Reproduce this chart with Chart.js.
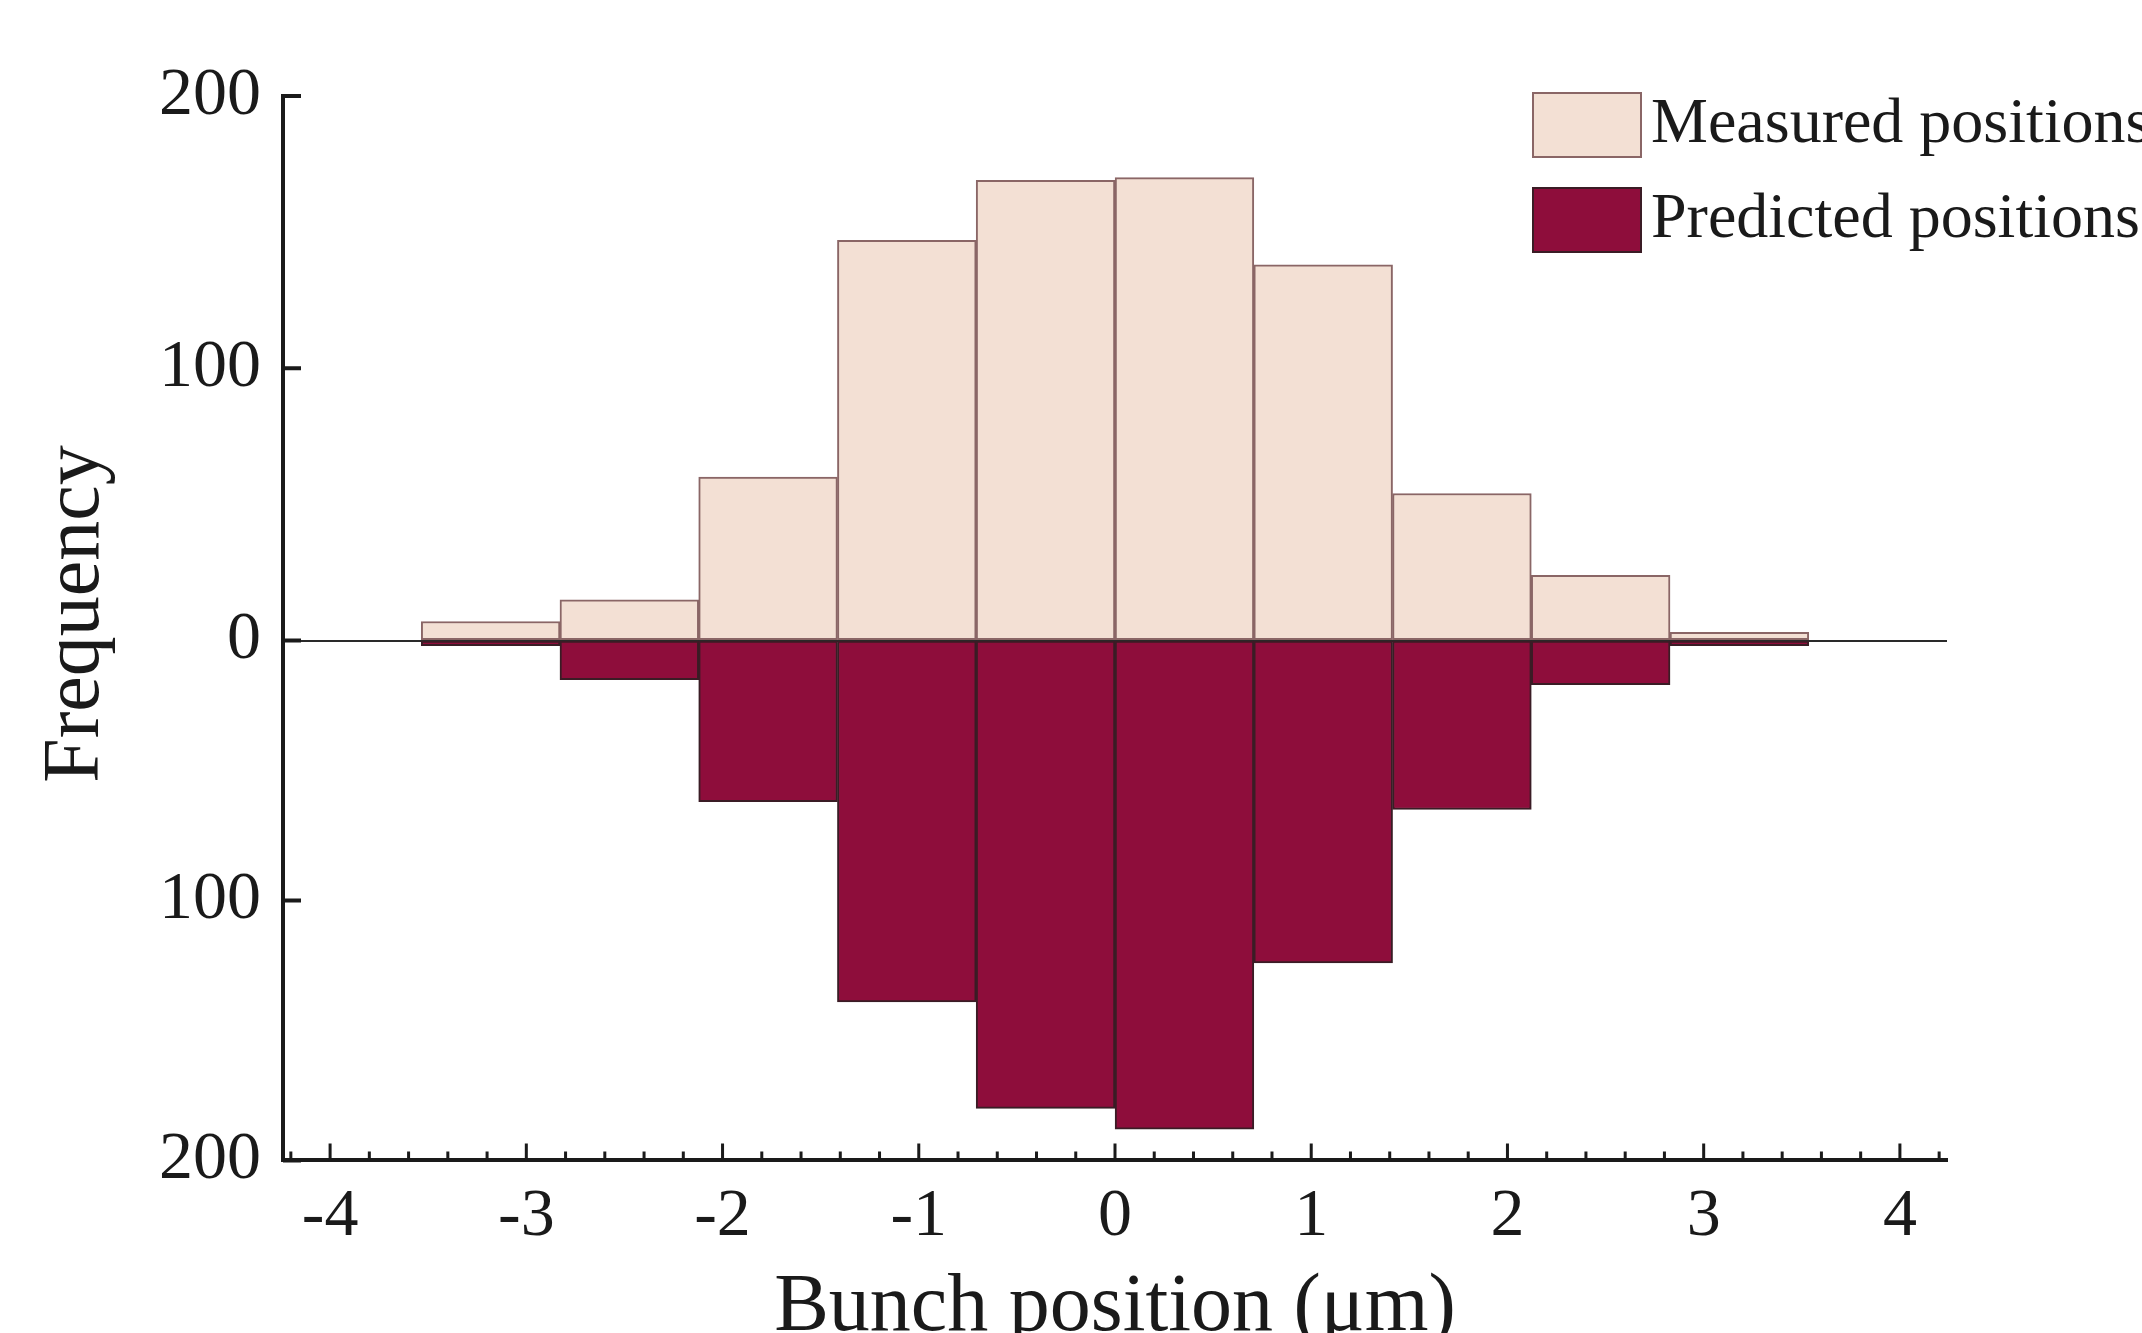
<!doctype html>
<html>
<head>
<title>Bunch position histogram</title>
<script src="https://cdn.jsdelivr.net/npm/chart.js@4.4.1/dist/chart.umd.min.js"></script>
<style>
  html, body { margin: 0; padding: 0; background: #fff; overflow: hidden; }
  #kast { width: 2142px; height: 1333px; }
</style>
</head>
<body>
<div id="kast"><canvas id="joonis"></canvas></div>
<script>
// histogram bins (um), bin width 0.7071
const binCenters = [-3.182, -2.475, -1.768, -1.061, -0.354, 0.354, 1.061, 1.768, 2.475, 3.182];
const measured = [7, 15, 60, 147, 169, 170, 138, 54, 24, 3];
const predicted = [2, 15, 62, 139, 180, 188, 124, 65, 17, 2];
const seriesNames = ['Measured positions', 'Predicted positions'];
const xTicks = [-4, -3, -2, -1, 0, 1, 2, 3, 4];
const yTicksUp = [0, 100, 200];
const yTicksDown = [0, 100, 200];

const ink = '#1a1a1a';
const serif = '"Liberation Serif", "Times New Roman", serif';
Chart.defaults.font.family = serif;
Chart.defaults.color = ink;

// inward tick marks (major + minor on x)
const tikid = {
  id: 'tikid',
  afterDraw(chart) {
    const c = chart.ctx, a = chart.chartArea;
    const sx = chart.scales.x, su = chart.scales.y, sd = chart.scales.y2;
    c.save();
    c.strokeStyle = ink;
    c.lineWidth = 3;
    c.beginPath();
    for (let i = -21; i <= 21; i++) {
      const v = i / 5;
      const major = xTicks.includes(v);
      const px = sx.getPixelForValue(v);
      c.moveTo(px, a.bottom);
      c.lineTo(px, a.bottom - (major ? 17 : 9));
    }
    c.stroke();
    c.lineWidth = 4;
    c.beginPath();
    yTicksUp.forEach(v => { const py = su.getPixelForValue(v); c.moveTo(a.left, py); c.lineTo(a.left + 18, py); });
    yTicksDown.forEach(v => { const py = sd.getPixelForValue(v); c.moveTo(a.left, py); c.lineTo(a.left + 18, py); });
    c.stroke();
    c.restore();
  }
};

// legend in the top right + rotated y title
const sildid = {
  id: 'sildid',
  afterDraw(chart) {
    const c = chart.ctx;
    c.save();
    c.font = '64px ' + serif;
    c.textBaseline = 'alphabetic';
    chart.data.datasets.forEach((ds, i) => {
      const top = 93 + i * 95;
      c.fillStyle = ds.backgroundColor;
      c.fillRect(1533, top, 108, 64);
      c.strokeStyle = ds.borderColor;
      c.lineWidth = 2;
      c.strokeRect(1533, top, 108, 64);
      c.fillStyle = ink;
      c.fillText(ds.label, 1651, top + 49);
    });
    c.translate(98, 614);
    c.rotate(-Math.PI / 2);
    c.font = '80px ' + serif;
    c.textAlign = 'center';
    c.fillText('Frequency', 0, 0);
    c.restore();
  }
};

const joonis = new Chart(document.getElementById('joonis'), {
  type: 'bar',
  data: {
    datasets: [
      {
        label: seriesNames[0],
        data: binCenters.map((c, i) => ({x: c, y: measured[i]})),
        yAxisID: 'y',
        backgroundColor: '#f3e0d4',
        borderColor: '#8a6666',
        borderWidth: 2,
        borderSkipped: false
      },
      {
        label: seriesNames[1],
        data: binCenters.map((c, i) => ({x: c, y: predicted[i]})),
        yAxisID: 'y2',
        backgroundColor: '#8e0d3b',
        borderColor: '#3a1c25',
        borderWidth: 2,
        borderSkipped: false
      }
    ]
  },
  options: {
    responsive: true,
    maintainAspectRatio: false,
    animation: false,
    devicePixelRatio: 1,
    datasets: { bar: { grouped: false, barPercentage: 1, categoryPercentage: 1 } },
    layout: { padding: { left: 137, right: 195, top: 96, bottom: 0 } },
    plugins: { legend: { display: false }, tooltip: { enabled: false } },
    scales: {
      x: {
        type: 'linear',
        min: -4.24,
        max: 4.24,
        offset: false,
        afterBuildTicks: s => { s.ticks = xTicks.map(v => ({value: v})); },
        ticks: { font: { size: 68 }, padding: 16, color: ink },
        grid: { display: true, drawOnChartArea: false, drawTicks: false, offset: false },
        border: { display: true, color: ink, width: 4 },
        title: { display: true, text: 'Bunch position (μm)', font: { size: 82, lineHeight: 1 }, padding: { top: -7, bottom: -16 }, color: ink }
      },
      y: {
        type: 'linear',
        position: 'left',
        stack: 'sagedus',
        stackWeight: 543.7,
        weight: 2,
        min: 0,
        max: 200,
        afterBuildTicks: s => { s.ticks = yTicksUp.map(v => ({value: v})); },
        ticks: { font: { size: 68 }, padding: 22, color: ink },
        grid: { drawOnChartArea: true, drawTicks: false, lineWidth: 2, color: c => c.tick && c.tick.value === 0 ? '#2a2a2a' : 'rgba(0,0,0,0)' },
        border: { display: true, color: ink, width: 4 }
      },
      y2: {
        type: 'linear',
        position: 'left',
        stack: 'sagedus',
        stackWeight: 519,
        weight: 1,
        reverse: true,
        min: 0,
        max: 200,
        afterBuildTicks: s => { s.ticks = yTicksDown.map(v => ({value: v})); },
        ticks: { font: { size: 68 }, padding: 22, color: ink, callback: v => v === 0 ? '' : v },
        grid: { drawOnChartArea: false, drawTicks: false },
        border: { display: true, color: ink, width: 4 }
      }
    }
  },
  plugins: [tikid, sildid]
});
</script>
</body>
</html>
